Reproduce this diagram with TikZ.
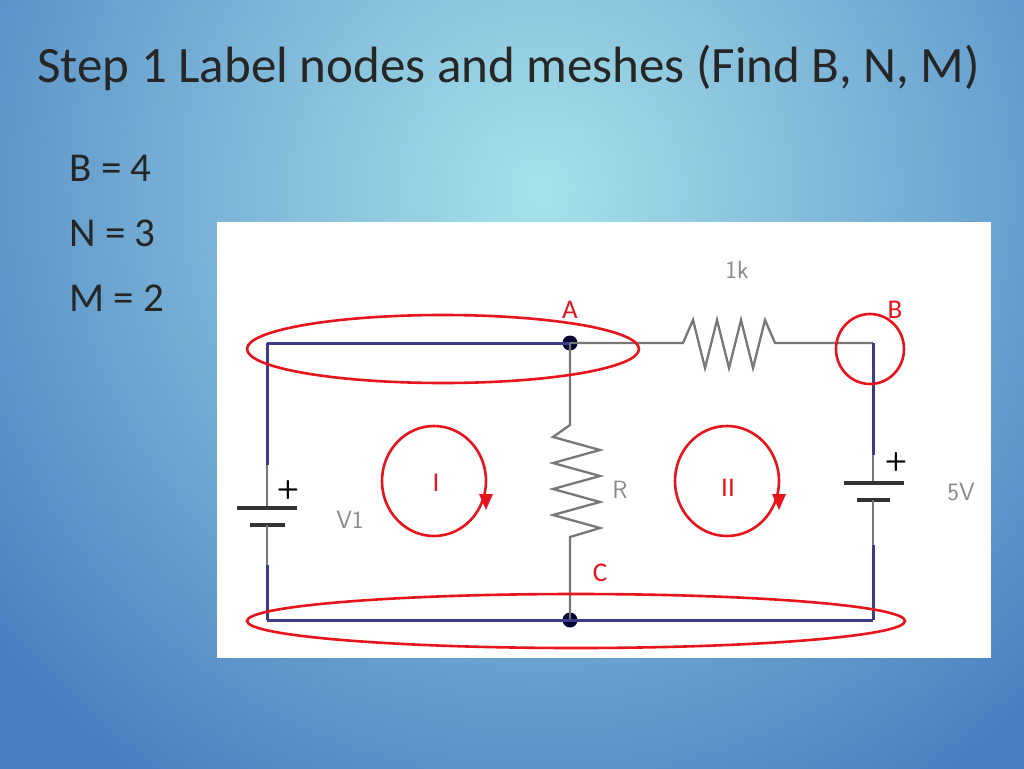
\documentclass[tikz,border=0pt]{standalone}
\usepackage{fontspec}
\setmainfont{Carlito}
\usetikzlibrary{arrows.meta}
\definecolor{bgin}{HTML}{A6E2EA}
\definecolor{bgout}{HTML}{4A80C2}
\definecolor{wireb}{HTML}{3C3C88}
\definecolor{wireg}{HTML}{777777}
\definecolor{lab}{HTML}{8A8A8A}
\definecolor{rd}{HTML}{E8141B}
\tikzset{
  blue wire/.style={draw=wireb,line width=3pt},
  grey wire/.style={draw=wireg,line width=2.3pt},
  mark red/.style={draw=rd,line width=2.6pt},
  redlab/.style={text=rd,font=\fontsize{27}{29}\selectfont},
  greylab/.style={text=lab,font=\sffamily\fontsize{25}{27}\selectfont},
  bigtxt/.style={text=black!85,font=\fontsize{41}{44}\selectfont,anchor=west},
  dot/.style={circle,fill=black!80!blue,inner sep=0pt,minimum size=15pt}
}
\begin{document}
\begin{tikzpicture}[x=1pt,y=-1pt]
\useasboundingbox (0,0) rectangle (1024,768);
\begin{scope}
\clip (0,0) rectangle (1024,768);
\shade[inner color=bgin,outer color=bgout] (-160,-520) rectangle (1240,900);
\end{scope}
\node[anchor=west,text=black!85,font=\fontsize{51}{54}\selectfont] (title) at (34,68) {Step 1 Label nodes and meshes (Find B, N, M)};
\node[bigtxt] (tb) at (66,168) {B = 4};
\node[bigtxt] (tn) at (66,233) {N = 3};
\node[bigtxt] (tm) at (66,298) {M = 2};
\fill[white] (217,222) rectangle (991,658);
\coordinate (tl) at (267,343);
\coordinate (tr) at (873,343);
\coordinate (bl) at (267,620);
\coordinate (br) at (873,620);
\node[dot] (A) at (570,343) {};
\node[dot] (C) at (570,620) {};
\draw[blue wire] (tl) -- (A.center);
\draw[grey wire] (A.center) -- (683,343) -- (693,320) -- (705,368) -- (717,320) -- (729,368) -- (741,320) -- (753,368) -- (765,320) -- (775,343) -- (tr);
\draw[blue wire] (tr) -- (873,455);
\draw[grey wire] (A.center) -- (570,425) -- (553,437) -- (600,450) -- (553,463) -- (600,476) -- (553,489) -- (600,502) -- (553,515) -- (600,528) -- (570,537) -- (C.center);
\draw[blue wire] (bl) -- (C.center) -- (br);
\draw[blue wire] (br) -- (873,545);
\draw[blue wire] (tl) -- (267,465);
\draw[grey wire] (267,465) -- (267,508);
\draw[line width=3.5pt,black!80] (237,508) -- (297,508);
\draw[line width=3.5pt,black!80] (250,525) -- (285,525);
\draw[grey wire] (267,525) -- (267,565);
\draw[blue wire] (267,565) -- (bl);
\node[font=\sffamily\bfseries\fontsize{26}{28}\selectfont] (pl1) at (288,490) {+};
\draw[grey wire] (873,455) -- (873,483);
\draw[line width=3.5pt,black!80] (844,483) -- (904,483);
\draw[line width=3.5pt,black!80] (857,500) -- (890,500);
\draw[grey wire] (873,500) -- (873,545);
\node[font=\sffamily\bfseries\fontsize{26}{28}\selectfont] (pl2) at (896,462) {+};
\node[greylab] (lk) at (737,270) {1k};
\node[greylab] (lv) at (350,520) {V1};
\node[greylab] (lr) at (620,490) {R};
\node[greylab] (l5) at (961,492) {5V};
\node[redlab] (la) at (570,310) {A};
\node[redlab] (lb) at (895,310) {B};
\node[redlab] (lc) at (600,573) {C};
\node[redlab] (li) at (436,483) {I};
\node[redlab] (lii) at (728,488) {II};
\draw[mark red] (443,349) ellipse [x radius=196,y radius=34];
\draw[mark red] (870,349) ellipse [x radius=34,y radius=35];
\draw[mark red] (576,621) ellipse [x radius=329,y radius=27];
\draw[mark red] (434,481) ellipse [x radius=52,y radius=55];
\draw[mark red] (727,481) ellipse [x radius=52,y radius=55];
\fill[rd] (479,494) -- (493,494) -- (486,510) -- cycle;
\fill[rd] (772,494) -- (786,494) -- (779,510) -- cycle;
\end{tikzpicture}
\end{document}
